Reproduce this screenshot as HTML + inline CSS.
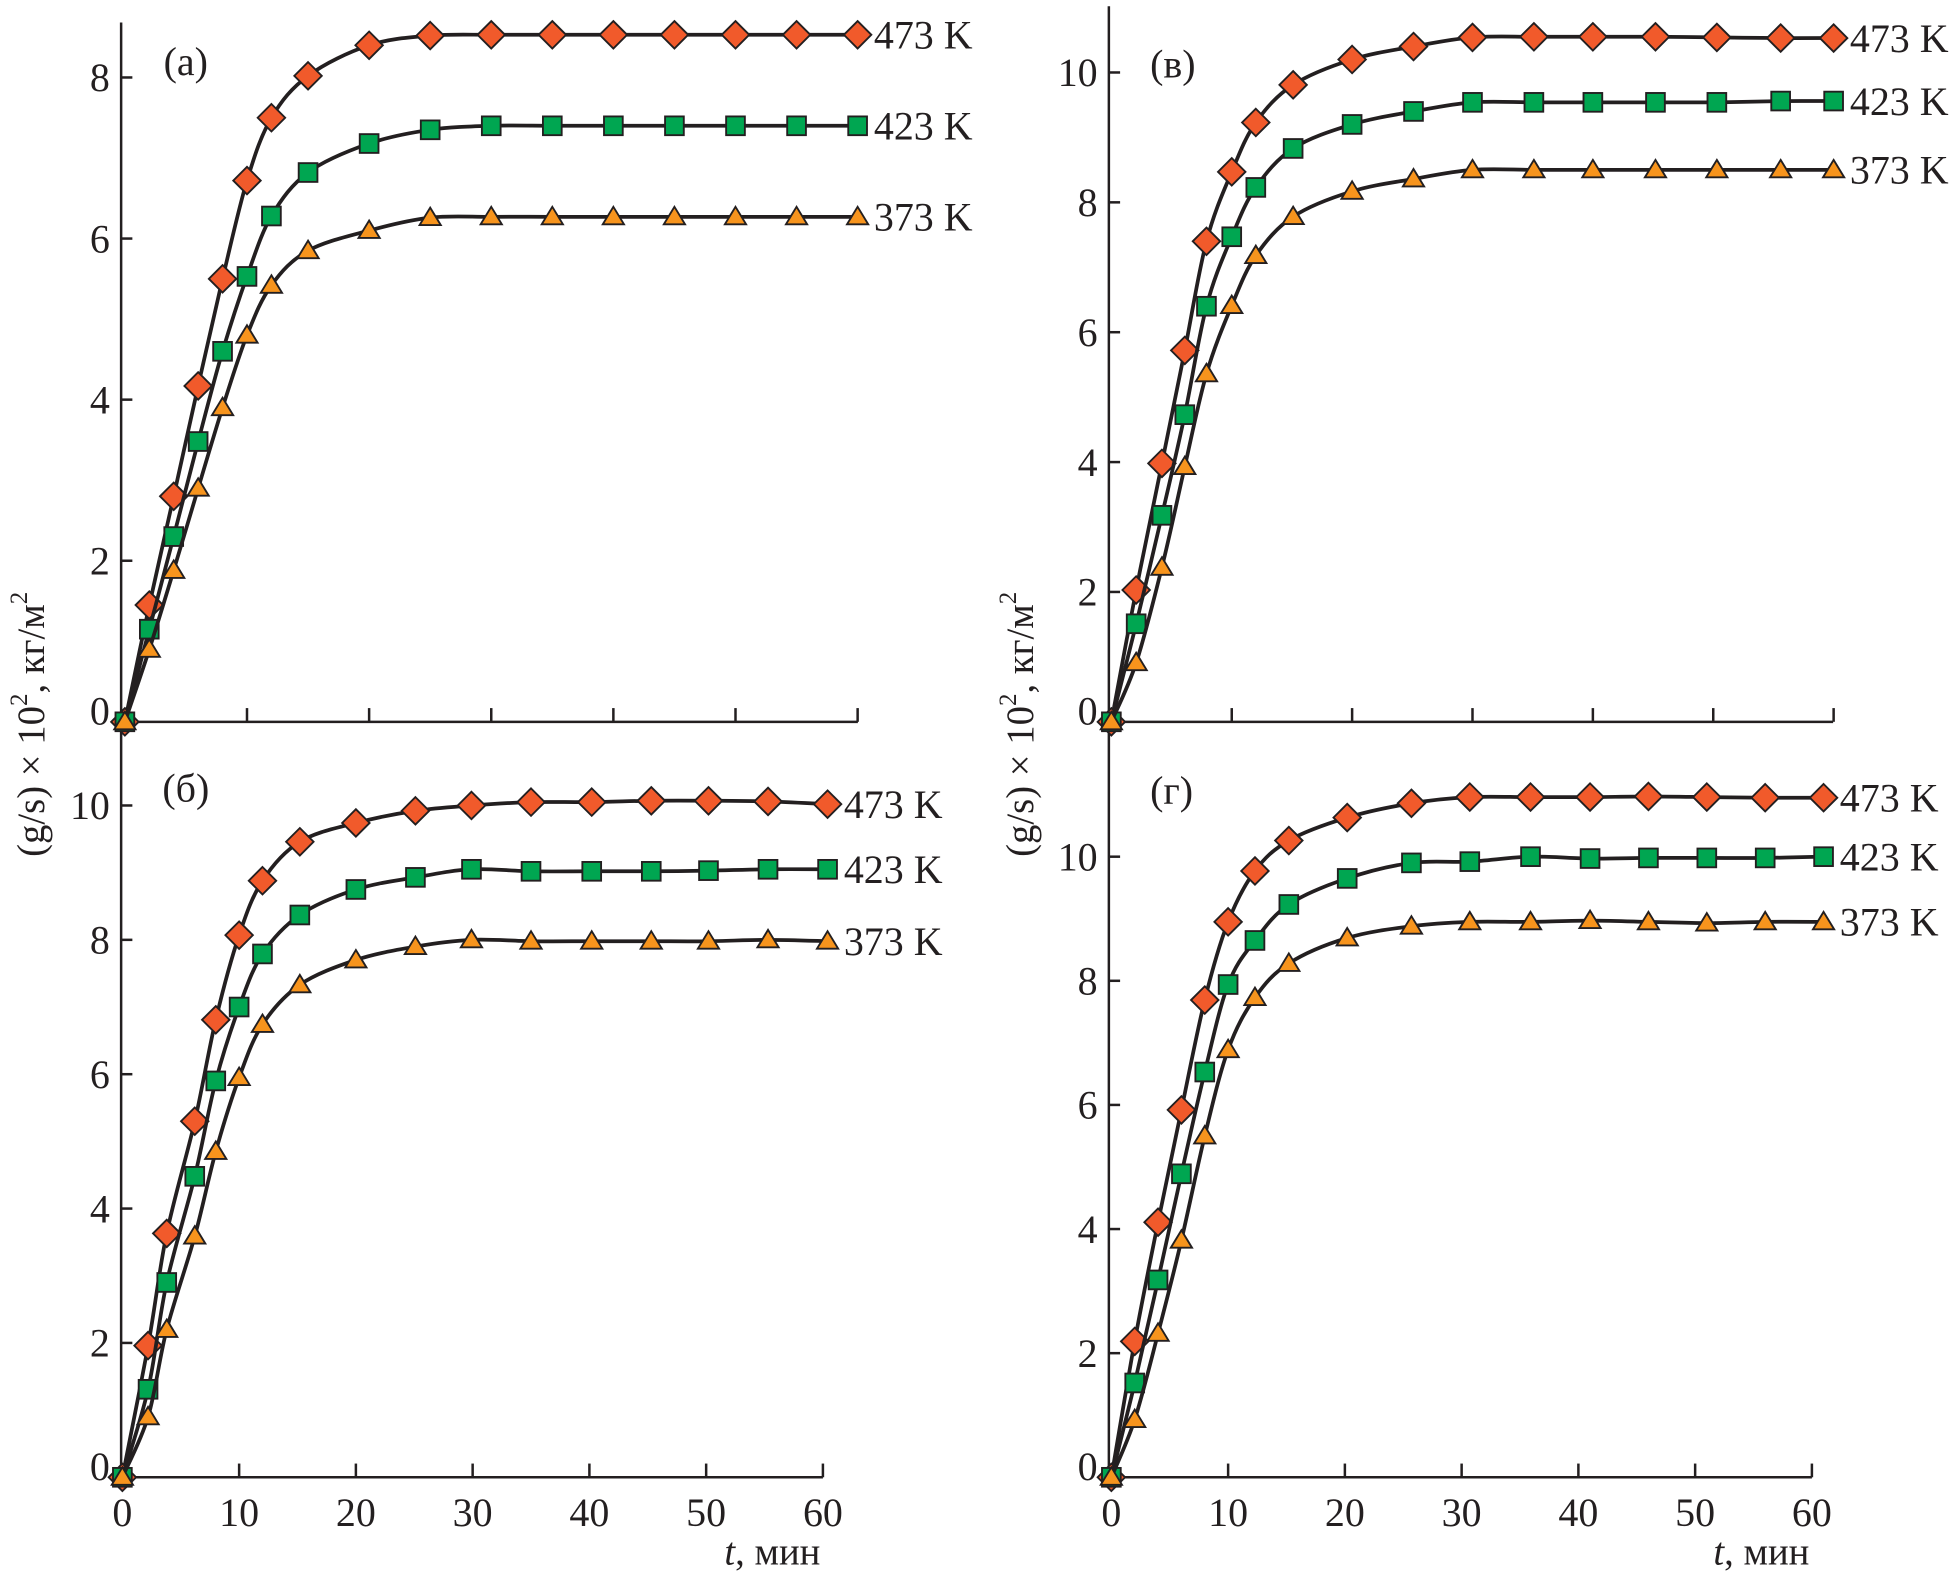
<!DOCTYPE html>
<html><head><meta charset="utf-8">
<style>
html,body{margin:0;padding:0;background:#fff;}
svg{display:block;}
text{font-family:"Liberation Serif",serif;fill:#231f20;}
</style></head>
<body>
<svg id="fig" xmlns="http://www.w3.org/2000/svg" width="1958" height="1571" viewBox="0 0 1568 1258">
<g id="layer"></g>
</svg>
<script>
// ---- data ----
const tA = [0,2,4,6,8,10,12,15,20,25,30,35,40,45,50,55,60];
const a473 = [0,1.45,2.8,4.17,5.5,6.72,7.5,8.02,8.4,8.52,8.53,8.53,8.53,8.53,8.53,8.53,8.53];
const a423 = [0,1.15,2.3,3.48,4.6,5.53,6.28,6.82,7.18,7.35,7.4,7.4,7.4,7.4,7.4,7.4,7.4];
const a373 = [0,0.9,1.88,2.9,3.9,4.8,5.42,5.85,6.1,6.26,6.27,6.27,6.27,6.27,6.27,6.27,6.27];
const tB = [0,2.2,3.8,6.2,8,10,12,15.2,20,25.1,29.9,35,40.2,45.3,50.2,55.3,60.4];
const b473 = [0,1.96,3.63,5.3,6.81,8.07,8.88,9.46,9.74,9.92,10.0,10.05,10.05,10.07,10.07,10.06,10.02];
const b423 = [0,1.31,2.9,4.48,5.9,7.0,7.79,8.37,8.75,8.93,9.05,9.02,9.02,9.02,9.03,9.05,9.05];
const b373 = [0,0.9,2.2,3.59,4.85,5.95,6.74,7.33,7.7,7.9,8.0,7.98,7.98,7.98,7.98,8.0,7.98];
const tV = [0,2.06,4.2,6.1,7.9,10,12,15.1,20,25.1,30,35.1,40,45.2,50.3,55.6,60];
const v473 = [0,2.03,3.98,5.72,7.4,8.47,9.23,9.81,10.2,10.4,10.54,10.55,10.55,10.55,10.54,10.53,10.53];
const v423 = [0,1.51,3.18,4.73,6.4,7.47,8.23,8.83,9.2,9.4,9.54,9.54,9.54,9.54,9.54,9.56,9.56];
const v373 = [0,0.91,2.38,3.93,5.36,6.41,7.18,7.78,8.17,8.36,8.5,8.5,8.5,8.5,8.5,8.5,8.5];
const tG = [0,2,4,6,8,10,12.3,15.2,20.2,25.7,30.7,35.9,41,46,51,56,61];
const g473 = [0,2.19,4.11,5.92,7.69,8.95,9.77,10.26,10.63,10.86,10.96,10.96,10.96,10.97,10.96,10.95,10.95];
const g423 = [0,1.52,3.18,4.89,6.53,7.94,8.65,9.23,9.65,9.9,9.92,10.0,9.97,9.98,9.98,9.98,10.0];
const g373 = [0,0.93,2.32,3.82,5.5,6.89,7.73,8.28,8.69,8.88,8.95,8.95,8.97,8.95,8.93,8.95,8.95];
const xTicks = [0,10,20,30,40,50,60];
const yTicksA = [0,2,4,6,8];
const yTicksB = [0,2,4,6,8,10];
const seriesNames = ["473 K","423 K","373 K"];

const NS = "http://www.w3.org/2000/svg";
const layer = document.getElementById('layer');
function mk(tag, attrs, parent){
  const e = document.createElementNS(NS, tag);
  for (const k in attrs) e.setAttribute(k, attrs[k]);
  (parent||layer).appendChild(e);
  return e;
}
const panels = [
  {id:'a', label:'(a)', lx:131, ly:60, x0:100, xs:9.78, y0:578, ys:64.5, axX:97, xEnd:687, xLabels:false, yT:yTicksA, t:tA, s:[a473,a423,a373]},
  {id:'b', label:'(б)', lx:130, ly:642, x0:98, xs:9.35, y0:1183, ys:53.8, axX:97, xEnd:659, xLabels:true, yT:yTicksB, t:tB, s:[b473,b423,b373]},
  {id:'v', label:'(в)', lx:921, ly:62, x0:890, xs:9.64, y0:578, ys:52, axX:888, xEnd:1468, xLabels:false, yT:yTicksB, t:tV, s:[v473,v423,v373]},
  {id:'g', label:'(г)', lx:921, ly:644, x0:890, xs:9.35, y0:1183, ys:49.7, axX:888, xEnd:1451, xLabels:true, yT:yTicksB, t:tG, s:[g473,g423,g373]}
];
let e;
e = mk('line',{x1:97,y1:18,x2:97,y2:1190,stroke:'#231f20','stroke-width':2});
 
e = mk('line',{x1:888,y1:5,x2:888,y2:1190,stroke:'#231f20','stroke-width':2});
 

function spline(pts){
  let d = 'M'+pts[0][0]+','+pts[0][1];
  for (let i=0;i<pts.length-1;i++){
    const p0=pts[Math.max(0,i-1)], p1=pts[i], p2=pts[i+1], p3=pts[Math.min(pts.length-1,i+2)];
    const c1x=p1[0]+(p2[0]-p0[0])/6, c1y=p1[1]+(p2[1]-p0[1])/6;
    const c2x=p2[0]-(p3[0]-p1[0])/6, c2y=p2[1]-(p3[1]-p1[1])/6;
    d += ' C'+c1x.toFixed(1)+','+c1y.toFixed(1)+' '+c2x.toFixed(1)+','+c2y.toFixed(1)+' '+p2[0].toFixed(1)+','+p2[1].toFixed(1);
  }
  return d;
}
const fills = ['#f15a2b','#00a651','#f7941d'];
panels.forEach(p=>{
  const g = mk('g',{});
   
  const X = t=>p.x0+p.xs*t, Y = v=>p.y0-p.ys*v;
  e = mk('line',{x1:p.axX,y1:p.y0,x2:p.xEnd,y2:p.y0,stroke:'#231f20','stroke-width':2},g);
   
  xTicks.forEach(t=>{
    if (t>0){
      e = mk('line',{x1:X(t),y1:p.y0,x2:X(t),y2:p.y0-11,stroke:'#231f20','stroke-width':2},g);
       
    }
    if (p.xLabels){
      e = mk('text',{x:X(t),y:p.y0+39,'text-anchor':'middle','font-size':32},g);
      e.textContent = t;
       
    }
  });
  if (p.xLabels){
    e = mk('text',{x:p.xEnd-2,y:p.y0+70,'text-anchor':'end','font-size':31},g);
    e.innerHTML = '<tspan font-style="italic">t</tspan>, мин';
     
  }
  p.yT.forEach(v=>{
    if (v>0){
      e = mk('line',{x1:p.axX,y1:Y(v),x2:p.axX+9,y2:Y(v),stroke:'#231f20','stroke-width':2},g);
       
    }
    e = mk('text',{x:p.axX-9,y:Y(v)+(v===0?2:11),'text-anchor':'end','font-size':32},g);
    e.textContent = v;
     
  });
  e = mk('text',{x:p.lx,y:p.ly,'font-size':32},g);
  e.textContent = p.label;
   
  p.s.forEach((vals,si)=>{
    const pts = vals.map((v,i)=>[X(p.t[i]),Y(v)]);
    const sg = mk('g',{},g);
     
    e = mk('path',{d:spline(pts),fill:'none',stroke:'#231f20','stroke-width':3},sg);
     
    pts.forEach(([x,y])=>{
      let m;
      if (si===0) m = mk('polygon',{points:`${x},${y-11} ${x+11},${y} ${x},${y+11} ${x-11},${y}`},sg);
      else if (si===1) m = mk('rect',{x:x-7.5,y:y-7.5,width:15,height:15},sg);
      else m = mk('polygon',{points:`${x},${y-8} ${x+8.5},${y+6} ${x-8.5},${y+6}`},sg);
      m.setAttribute('fill',fills[si]); m.setAttribute('stroke','#231f20'); m.setAttribute('stroke-width',1.5);
      
      
    });
    const last = pts[pts.length-1];
    e = mk('text',{x:last[0]+13,y:last[1]+11,'font-size':32},sg);
    e.textContent = seriesNames[si];
     
  });
});
[[28,580],[820,580]].forEach(([x,y])=>{
  const t = mk('text',{x:x,y:y,transform:`rotate(-90 ${x} ${y})`,'text-anchor':'middle','dominant-baseline':'middle','font-size':31});
  t.innerHTML = '(g/s) × 10<tspan dy="-11" font-size="20">2</tspan><tspan dy="11">, кг/м</tspan><tspan dy="-11" font-size="20">2</tspan>';
  
  
});
</script>
</body></html>
